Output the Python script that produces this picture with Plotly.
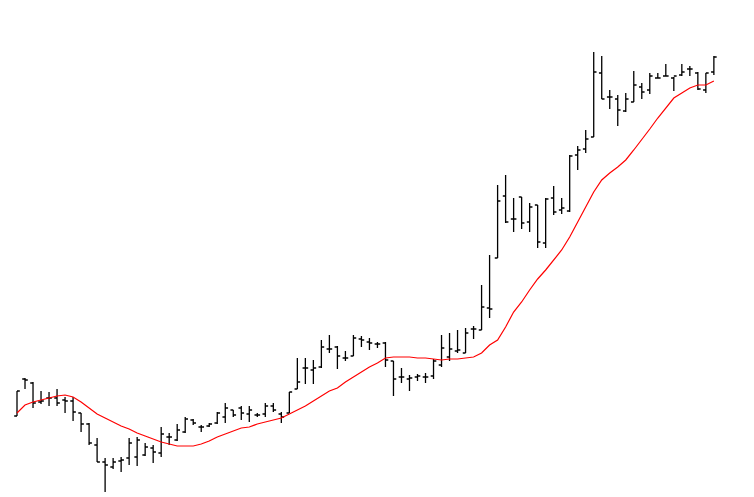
import plotly.graph_objects as go

# readings (higher number = lower price); converted to price below
o_r = [416,379,383,402,398,398,400,401,413,424,445,462,467,461,458,457,455,448,453,437,440,432,420,427,426,423,417,410,408,414,
       415,414,406,414,413,389,368,370,367,349,347,358,356,339,342,344,343,361,377,379,377,377,376,365,357,351,353,329,330,308,
       258,196,219,197,222,205,243,198,210,211,155,149,137,73,97,99,111,102,87,90,78,76,78,75,69,73,90,72]
h_r = [391,378,382,391,392,389,397,397,413,423,438,458,458,457,438,437,443,445,427,433,424,417,419,425,423,412,403,410,406,406,
       413,403,403,412,392,358,358,360,340,335,346,351,335,336,338,342,342,361,368,375,374,373,359,335,333,330,328,326,285,255,
       185,175,198,197,203,205,198,186,198,155,146,130,52,56,90,95,93,71,83,73,73,64,77,64,66,72,73,56]
l_r = [416,389,408,404,406,406,413,421,432,445,462,492,469,472,465,466,456,463,457,445,441,433,425,432,427,424,423,417,420,422,
       417,417,412,423,413,389,384,384,368,353,369,361,356,347,350,348,367,396,383,391,381,383,379,367,361,353,353,339,330,318,
       258,223,232,229,232,248,248,215,214,212,170,153,137,99,109,126,112,102,99,94,78,76,91,76,76,90,93,75]
c_r = [391,380,403,401,398,403,401,412,424,443,462,465,462,460,443,440,447,452,434,437,430,419,423,427,424,413,408,415,413,410,
       415,406,410,417,392,382,368,368,347,349,356,358,338,340,343,344,360,379,377,378,376,377,361,348,349,350,333,329,307,309,
       201,222,219,223,207,242,199,212,208,156,150,139,72,99,97,110,99,85,92,76,78,76,76,72,69,89,73,57]
ma_r = [413,405,402,400,398,396,395,397,402,408,414,418,422,426,429,433,436,439,442,444,446,446,446,444,441,437,434,431,428,427,
        424,422,420,418,414,410,406,401,396,391,388,382,377,372,367,363,358,357,357,357,358,358,359,360,359,359,358,357,353,345,
        340,327,312,302,290,279,270,260,250,237,222,207,192,180,173,167,160,150,140,129,118,108,98,93,88,85,85,81]

opens = [500 - v for v in o_r]
highs = [500 - v for v in h_r]
lows = [500 - v for v in l_r]
closes = [500 - v for v in c_r]
ma = [500 - v for v in ma_r]
x = list(range(len(opens)))

fig = go.Figure()
fig.add_trace(go.Ohlc(x=x, open=opens, high=highs, low=lows, close=closes,
                      increasing_line_color="black", decreasing_line_color="black",
                      line_width=1.3, tickwidth=0.35, hoverinfo="skip"))
fig.add_trace(go.Scatter(x=x, y=ma, mode="lines", line=dict(color="red", width=1.2), hoverinfo="skip"))
fig.update_layout(width=754, height=497, margin=dict(l=0, r=0, t=0, b=0),
                  paper_bgcolor="white", plot_bgcolor="white", showlegend=False,
                  xaxis=dict(visible=False, range=[-9/8.01, 745/8.01], rangeslider=dict(visible=False)),
                  yaxis=dict(visible=False, range=[-5, 492]))
fig.write_html("out.html")
